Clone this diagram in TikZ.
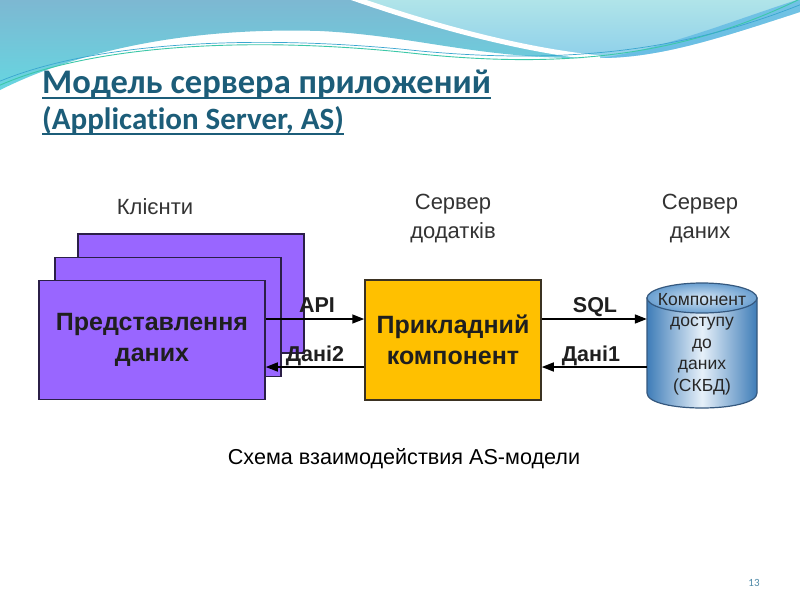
\documentclass[tikz,border=0pt]{standalone}
\usepackage{fontspec}
\setmainfont{Liberation Sans}
\newfontfamily\calbri[Ligatures=NoCommon]{Carlito}
\usetikzlibrary{arrows.meta}
\definecolor{banTop}{HTML}{7DB8D2}
\definecolor{banBot}{HTML}{66D6E1}
\definecolor{banRtop}{HTML}{B0E4E9}
\definecolor{banRbot}{HTML}{8ED0EA}
\definecolor{banBand}{HTML}{5DB8E3}
\definecolor{lineG}{HTML}{3CC8A8}
\definecolor{lineB}{HTML}{3AA6D0}
\definecolor{titleC}{HTML}{1C5D79}
\definecolor{purp}{HTML}{9966FF}
\definecolor{purpEdge}{HTML}{2B1F47}
\definecolor{gold}{HTML}{FFC000}
\definecolor{goldEdge}{HTML}{3B3222}
\definecolor{cylDark}{HTML}{3F7DB8}
\definecolor{cylLight}{HTML}{E6F0F9}
\definecolor{cylTopIn}{HTML}{D5E6F5}
\definecolor{cylTopOut}{HTML}{6A9FD0}
\definecolor{cylEdge}{HTML}{35587E}
\definecolor{txtGray}{HTML}{333333}
\definecolor{pageC}{HTML}{4F8AA8}
\begin{document}
\begin{tikzpicture}[x=1pt,y=-1pt,
 clientbox/.style={draw=purpEdge, line width=1.5pt, fill=purp, minimum width=226pt, minimum height=119pt, inner sep=0pt, align=center, font=\fontsize{25}{31}\selectfont\bfseries, text=black!88},
 appbox/.style={draw=goldEdge, line width=1.5pt, fill=gold, minimum width=176pt, minimum height=120pt, inner sep=0pt, align=center, font=\fontsize{25}{31}\selectfont\bfseries, text=black!88},
 head/.style={align=center, text=txtGray, font=\fontsize{22}{29}\selectfont},
 lbl/.style={font=\fontsize{21.5}{25}\selectfont\bfseries, inner sep=0pt, text=black!88},
 conn/.style={line width=1.6pt, -{Triangle[length=12pt,width=9pt]}},
 titletxt/.style={anchor=base west, inner sep=0pt, text=titleC, font=\calbri\fontsize{34.5}{40}\selectfont\bfseries},
 subtitletxt/.style={titletxt, font=\calbri\fontsize{31}{36}\selectfont\bfseries},
]
\useasboundingbox (0,0) rectangle (800,600);
\fill[white] (0,0) rectangle (800,600);
% banner
\shade[top color=banTop, bottom color=banBot] (0,0) -- (360,0) .. controls (430,25) and (520,50) .. (600,58) .. controls (480,60) and (420,36) .. (320,31) .. controls (190,27) and (80,50) .. (0,90) -- cycle;
\shade[top color=banRtop, bottom color=banRbot] (360,0) -- (800,0) -- (800,12) .. controls (720,38) and (660,58) .. (600,58) .. controls (520,50) and (430,25) .. (360,0) -- cycle;
\fill[banBand, opacity=0.75] (800,12) .. controls (720,38) and (660,58) .. (600,58) .. controls (660,50) and (740,18) .. (800,-1) -- cycle;
\draw[white, line width=5pt] (350,-3) .. controls (430,25) and (520,50) .. (600,58);
\draw[lineG, line width=0.9pt] (-2,86) .. controls (90,45) and (250,35) .. (420,54) .. controls (560,68) and (680,58) .. (802,-2);
\draw[lineB, line width=0.7pt] (-2,82) .. controls (90,43) and (250,33) .. (420,51) .. controls (560,64) and (680,53) .. (802,4);
% title
\node[titletxt] (t1) at (42,93) {Модель сервера приложений};
\node[subtitletxt] (t2) at (42,129) {(Application Server, AS)};
\draw[titleC, line width=2pt] ([yshift=-4.5pt]t1.base west) -- ([yshift=-4.5pt]t1.base east);
\draw[titleC, line width=2pt] ([yshift=-4.5pt]t2.base west) -- ([yshift=-4.5pt]t2.base east);
% heads
\node[head] (hc) at (155,207) {Клієнти};
\node[head] (hs) at (453,219) {Сервер\\додатків};
\node[head] (hd) at (700,219) {Сервер\\даних};
% clients
\node[clientbox] (cl3) at (191,293.5) {};
\node[clientbox] (cl2) at (168,317) {};
\node[clientbox] (cl1) at (152,340) {Представлення\\даних};
% app
\node[appbox] (app) at (453,340) {Прикладний\\компонент};
% database cylinder
\node[minimum width=110pt, minimum height=1pt, inner sep=0pt] (db) at (702,340) {};
\shade[left color=cylDark, right color=cylDark, middle color=cylLight, draw=cylEdge, line width=1.2pt]
  (647,298) -- (647,393) .. controls (647,413) and (757,413) .. (757,393) -- (757,298) -- cycle;
\shade[inner color=cylTopIn, outer color=cylTopOut, draw=cylEdge, line width=1.2pt] (702,298) ellipse (55 and 15);
\node[align=center, text=black!85, font=\fontsize{17.5}{21.5}\selectfont] (dbt) at (702,344) {Компонент\\доступу\\до\\даних\\(СКБД)};
% connectors
\draw[conn] ([yshift=21pt]cl1.east) -- ([yshift=21pt]app.west);
\draw[conn] ([yshift=-27pt]app.west) -- ([yshift=-27pt]cl1.east);
\draw[conn] ([yshift=21pt]app.east) -- ([yshift=21pt]db.west);
\draw[conn] ([yshift=-27pt]db.west) -- ([yshift=-27pt]app.east);
\node[lbl, anchor=base] (lapi) at (317,312) {API};
\node[lbl, anchor=base] (ld2) at (315,361) {Дані2};
\node[lbl, anchor=base] (lsql) at (595,312) {SQL};
\node[lbl, anchor=base] (ld1) at (591,361) {Дані1};
% caption
\node[font=\fontsize{21.6}{25}\selectfont] (cap) at (404,459) {Схема взаимодействия AS-модели};
\node[font=\calbri\fontsize{11}{13}\selectfont, text=pageC] (pg) at (754,583) {13};
\end{tikzpicture}
\end{document}
